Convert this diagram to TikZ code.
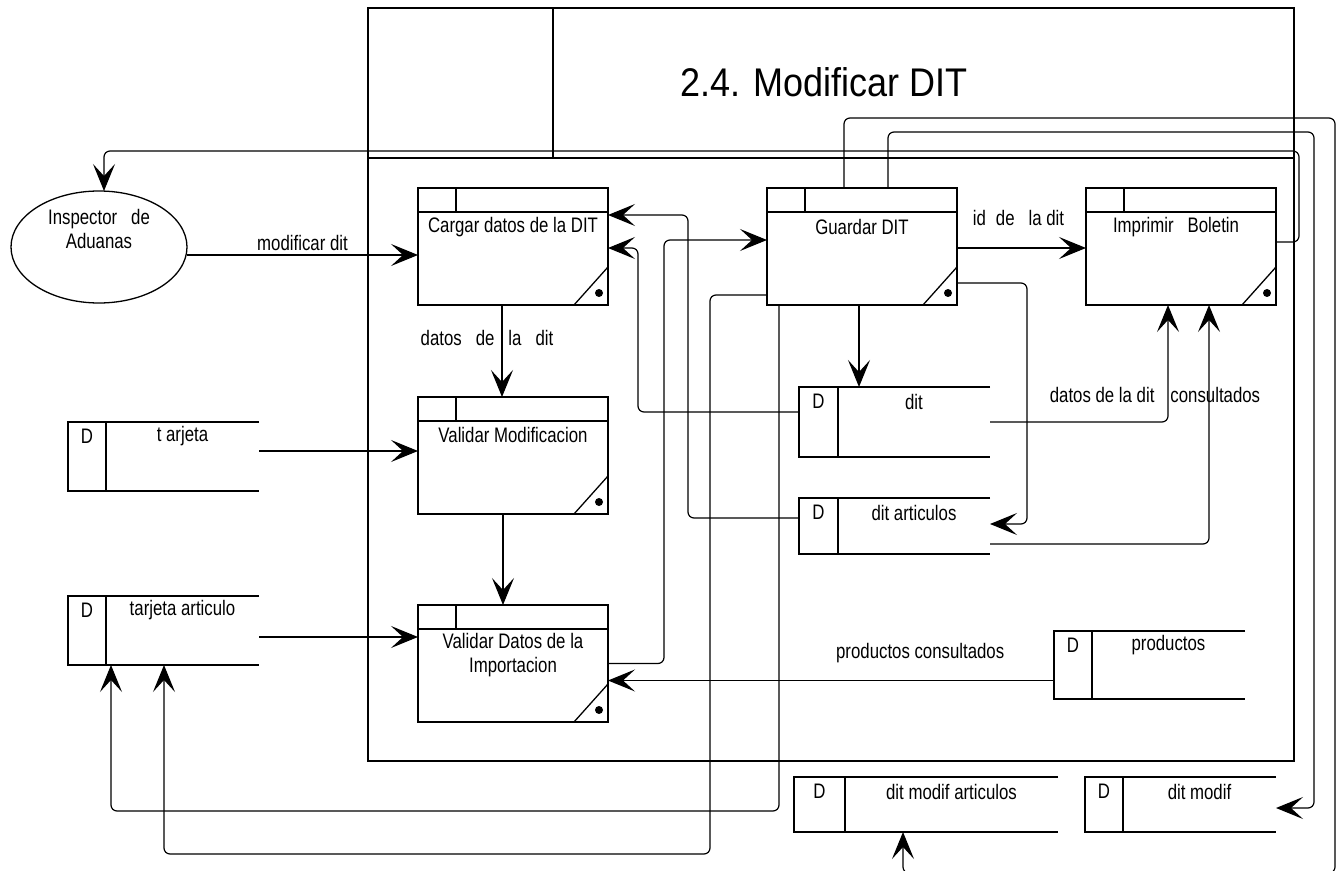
\documentclass[tikz,border=0pt]{standalone}
\usepackage{fontspec}
\setmainfont{Liberation Sans}[FakeStretch=0.8]
\newfontfamily\titulofont{Liberation Sans}[FakeStretch=0.9]
\usetikzlibrary{arrows.meta,shapes.geometric}

\tikzset{
  proceso/.style={draw, minimum width=95pt, minimum height=58.5pt, anchor=north west, inner sep=0pt, outer sep=0pt},
  almacen/.style={minimum width=95.5pt, minimum height=35pt, anchor=north west, inner sep=0pt, outer sep=0pt},
  txt/.style={inner sep=0pt, font=\fontsize{10.5}{12}\selectfont, align=center},
  flujo/.style={-{Stealth[length=13.5pt,width=11pt,inset=6pt]}, line width=0.6pt, rounded corners=3pt},
}

\begin{document}
\begin{tikzpicture}[x=0.5pt,y=-0.5pt,line width=0.65pt]
\useasboundingbox (0,0) rectangle (1344,871);

\draw (368,8) rectangle (1294,761);
\draw (553,8) -- (553,158);
\draw (368,158) -- (1294,158);
\node[font=\titulofont\fontsize{20}{24}\selectfont] (titulo) at (824,82) {2.4. Modificar DIT};

\node[draw, ellipse, minimum width=88pt, minimum height=56pt, inner sep=0pt, outer sep=0pt] (inspector) at (99,247) {};
\node[txt] (inspector-t) at (99,229) {Inspector\hspace{7pt}de\\Aduanas};

\node[proceso] (cargar) at (418,188) {};
\node[proceso] (valmod) at (418,397) {};
\node[proceso] (valdat) at (418,605) {};
\node[proceso] (guardar) at (767,188) {};
\node[proceso] (imprimir) at (1086,188) {};
\foreach \p in {cargar,valmod,valdat,guardar,imprimir}{
  \draw ([yshift=-12pt]\p.north west) -- ([yshift=-12pt]\p.north east);
  \draw ([xshift=19pt]\p.north west) -- ([xshift=19pt,yshift=-12pt]\p.north west);
  \draw ([xshift=-17pt]\p.south east) -- ([yshift=19pt]\p.south east);
  \fill ([xshift=-4.5pt,yshift=6pt]\p.south east) circle (2pt);
}
\node[txt] (cargar-t) at ([yshift=-19.5pt]cargar.north) {Cargar datos de la DIT};
\node[txt] (valmod-t) at ([yshift=-19pt]valmod.north) {Validar Modificacion};
\node[txt] (valdat-t) at ([yshift=-25pt]valdat.north) {Validar Datos de la\\Importacion};
\node[txt] (guardar-t) at ([yshift=-19.5pt]guardar.north) {Guardar DIT};
\node[txt] (imprimir-t) at ([xshift=-2.5pt,yshift=-19.5pt]imprimir.north) {Imprimir\hspace{7pt}Boletin};

\node[almacen, minimum height=34.5pt] (tarjeta) at (68,422) {};
\node[almacen, minimum height=34.5pt] (tarart) at (68,596) {};
\node[almacen] (dit) at (799,387) {};
\node[almacen, minimum height=28pt] (ditart) at (799,498) {};
\node[almacen, minimum height=34pt] (productos) at (1054,631) {};
\node[almacen, minimum width=132pt, minimum height=27.5pt] (ditmodart) at (794,777) {};
\node[almacen, minimum height=27.5pt] (ditmod) at (1085,777) {};
\foreach \s/\d/\m/\nombre in {tarjeta/19pt/9.5pt/t arjeta, tarart/19pt/9.5pt/tarjeta articulo,
    dit/19.5pt/9.75pt/dit, ditart/19.5pt/9.75pt/dit articulos, productos/19pt/9.5pt/productos,
    ditmodart/25.5pt/12.75pt/dit modif articulos, ditmod/19pt/9.5pt/dit modif}{
  \draw (\s.north east) -- (\s.north west) -- (\s.south west) -- (\s.south east);
  \draw ([xshift=\d]\s.north west) -- ([xshift=\d]\s.south west);
  \node[txt] (\s-D) at ([xshift=\m,yshift=-7.25pt]\s.north west) {D};
  \node[txt] (\s-n) at ([xshift=\m,yshift=-7.25pt]\s.north) {\nombre};
}

\draw[flujo] ([yshift=-4pt]inspector.east) -- ([yshift=-4.25pt]cargar.west)
  node[txt, midway, yshift=6pt] (l-modificar) {modificar dit};
\draw[flujo] ([xshift=-5.5pt]cargar.south) -- ([xshift=-5.5pt]valmod.north)
  node[txt, midway, xshift=-7.5pt, yshift=6.5pt] (l-datos) {datos\hspace{7pt}de\hspace{7pt}la\hspace{7pt}dit};
\draw[flujo] ([xshift=-5pt]valmod.south) -- ([xshift=-5pt]valdat.north);
\draw[flujo] ([yshift=2.75pt]tarjeta.east) -- ([yshift=2.25pt]valmod.west);
\draw[flujo] ([yshift=-3.25pt]tarart.east) -- ([yshift=13.25pt]valdat.west);
\draw[flujo] ([yshift=5pt]dit.west) -| ([xshift=15pt,yshift=-0.75pt]cargar.east) -- ([yshift=-0.75pt]cargar.east);
\draw[flujo] ([yshift=4pt]ditart.west) -| ([xshift=40pt,yshift=15.75pt]cargar.east) -- ([yshift=15.75pt]cargar.east);
\draw[flujo] (valdat.east) -| ([xshift=-51.5pt,yshift=3.25pt]guardar.west) -- ([yshift=3.25pt]guardar.west);
\draw[flujo] ([yshift=-0.75pt]guardar.east) -- ([yshift=-0.75pt]imprimir.west)
  node[txt, midway, xshift=-1.5pt, yshift=15pt] (l-id) {id\hspace{5pt}de\hspace{7pt}la dit};
\draw[flujo] ([yshift=-18.25pt]guardar.east) -- ++(70,0) |- ([yshift=1pt]ditart.east);
\draw[flujo] ([xshift=46pt]guardar.south west) -- ++(0,82);
\draw[flujo] (dit.east) -| ([xshift=41pt]imprimir.south west);
\draw[flujo] ([yshift=-9pt]ditart.east) -| ([xshift=61.5pt]imprimir.south west);
\node[txt] (l-consultados) at ([xshift=-13pt,yshift=-45pt]imprimir.south) {datos de la dit\hspace{8pt}consultados};
\draw[flujo] ([yshift=-7.75pt]productos.west) -- ([yshift=-8.5pt]valdat.east)
  node[txt, pos=0.3, yshift=13.75pt] (l-productos) {productos consultados};
\draw[flujo] ([xshift=6pt]guardar.south west) -- ++(0,506) -| ([xshift=21.5pt]tarart.south west);
\draw[flujo] ([yshift=-24.25pt]guardar.west) -- ++(-57,0) -- ++(0,559) -| ([xshift=48pt]tarart.south west);
\draw[flujo] ([yshift=2.25pt]imprimir.east) -- ++(23,0) -- ++(0,-91) -| ([xshift=2.5pt]inspector.north);
\draw[flujo] ([xshift=60.5pt]guardar.north west) -- ++(0,-56) -| ([xshift=19pt,yshift=-1.75pt]ditmod.east) -- ([yshift=-1.75pt]ditmod.east);
\draw[flujo] ([xshift=38.5pt]guardar.north west) -- ++(0,-70) -- ++(491,0) -- ++(0,755) -| ([xshift=54.5pt]ditmodart.south west);
\end{tikzpicture}
\end{document}
